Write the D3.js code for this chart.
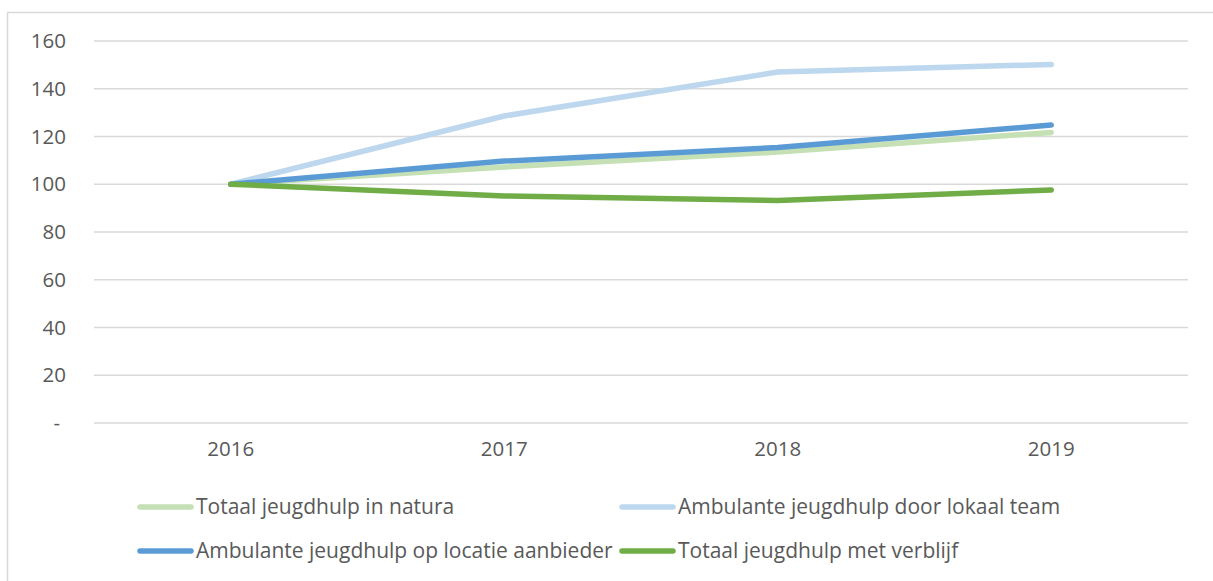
<html>
<head>
<meta charset="utf-8">
<script src="https://cdn.jsdelivr.net/npm/d3@7"></script>
<style>
body { margin: 0; background: #fff; }
text { font-family: "Open Sans", sans-serif; fill: #595959; }
</style>
</head>
<body>
<script>

var years = ["2016", "2017", "2018", "2019"],
    yTicks = [0, 20, 40, 60, 80, 100, 120, 140, 160],
    names = [
      "Totaal jeugdhulp in natura",
      "Ambulante jeugdhulp door lokaal team",
      "Ambulante jeugdhulp op locatie aanbieder",
      "Totaal jeugdhulp met verblijf"
    ],
    natura = [100, 107.2, 113.5, 121.7],
    lokaalTeam = [100, 128.6, 147.0, 150.2],
    opLocatie = [100, 109.7, 115.4, 124.8],
    verblijf = [100, 95.1, 93.2, 97.6],
    colors = ["#c5e0b4", "#bdd7ee", "#5b9bd5", "#70ad47"];

var series = [natura, lokaalTeam, opLocatie, verblijf];

var w = 1213, h = 581,
    plotLeft = 94, plotRight = 1188, plotTop = 41, plotBottom = 423;

var svg = d3.select("body").append("svg")
    .attr("width", w)
    .attr("height", h);

// chart area border
svg.append("rect")
    .attr("x", 7.5).attr("y", 12.5)
    .attr("width", w + 10).attr("height", h + 10)
    .attr("fill", "none")
    .attr("stroke", "#d9d9d9")
    .attr("stroke-width", 1.5);

var x = d3.scaleBand().domain(years).range([plotLeft, plotRight]);
var y = d3.scaleLinear().domain([0, 160]).range([plotBottom, plotTop]);

// gridlines
svg.append("g").selectAll("line")
    .data(yTicks)
  .enter().append("line")
    .attr("x1", plotLeft).attr("x2", plotRight)
    .attr("y1", function(d) { return y(d); })
    .attr("y2", function(d) { return y(d); })
    .attr("stroke", "#d9d9d9")
    .attr("stroke-width", 1.5);

var yAxis = d3.axisLeft(y)
    .tickValues(yTicks)
    .tickSize(0)
    .tickPadding(0)
    .tickFormat(function(d) { return d === 0 ? "-" : d; });

var ya = svg.append("g")
    .attr("transform", "translate(66,0)")
    .call(yAxis);
ya.select(".domain").remove();
ya.selectAll("text")
    .attr("font-size", 20.5)
    .attr("fill", "#595959")
    .attr("font-family", "Open Sans, sans-serif")
    .attr("dx", function(d) { return d === 0 ? -6 : 0; });

var xAxis = d3.axisBottom(x).tickSize(0).tickPadding(0);
var xa = svg.append("g")
    .attr("transform", "translate(0," + 441 + ")")
    .call(xAxis);
xa.select(".domain").remove();
xa.selectAll("text")
    .attr("font-size", 20.5)
    .attr("fill", "#595959")
    .attr("font-family", "Open Sans, sans-serif");

var line = d3.line()
    .x(function(d, i) { return x(years[i]) + x.bandwidth() / 2; })
    .y(function(d) { return y(d); });

svg.append("g").selectAll("path")
    .data(series)
  .enter().append("path")
    .attr("d", line)
    .attr("fill", "none")
    .attr("stroke", function(d, i) { return colors[i]; })
    .attr("stroke-width", 5.5)
    .attr("stroke-linecap", "round")
    .attr("stroke-linejoin", "round");

// legend
var legPos = [[138, 507], [620, 507], [138, 551], [620, 551]];
var leg = svg.append("g").selectAll("g")
    .data(names)
  .enter().append("g")
    .attr("transform", function(d, i) { return "translate(" + legPos[i][0] + "," + legPos[i][1] + ")"; });

leg.append("line")
    .attr("x1", 2).attr("x2", 53)
    .attr("stroke", function(d, i) { return colors[i]; })
    .attr("stroke-width", 5.5)
    .attr("stroke-linecap", "round");

leg.append("text")
    .attr("x", 58)
    .attr("dy", "0.35em")
    .attr("font-size", 21)
    .text(function(d) { return d; });

</script>
</body>
</html>
